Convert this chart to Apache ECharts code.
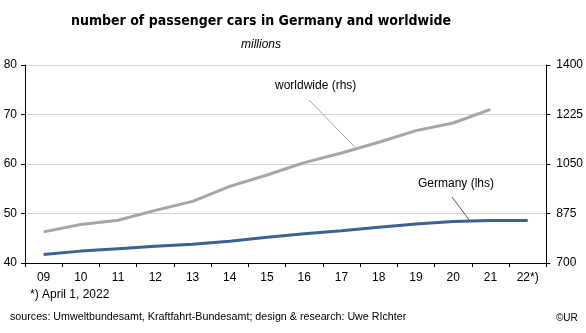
<!DOCTYPE html>
<html>
<head>
<meta charset="utf-8">
<script src="https://cdn.jsdelivr.net/npm/echarts@6/dist/echarts.min.js"></script>
<style>
  html, body { margin: 0; padding: 0; background: #fff; }
  #chart { width: 586px; height: 333px; }
</style>
</head>
<body>
<div id="chart"></div>
<script>
// Years (2022 as of April 1)
const years = ['09', '10', '11', '12', '13', '14', '15', '16', '17', '18', '19', '20', '21', '22*)'];
// Passenger cars in Germany, millions (left axis)
const germany = [41.7, 42.4, 42.9, 43.4, 43.8, 44.4, 45.2, 45.9, 46.5, 47.2, 47.9, 48.4, 48.6, 48.6];
// Passenger cars worldwide, millions (right axis)
const worldwide = [810, 836, 851, 886, 918, 971, 1011, 1055, 1089, 1127, 1168, 1195, 1243, null];

const leftTicks = { min: 40, max: 80, interval: 10 };
const rightTicks = { min: 700, max: 1400, interval: 175 };

const FONT = '"Liberation Sans", Arial, sans-serif';
const chart = echarts.init(document.getElementById('chart'), null, { renderer: 'canvas' });

const axisLine = { show: true, lineStyle: { color: '#000', width: 1 } };
const axisTick = { show: true, length: 4, lineStyle: { color: '#000' } };

chart.setOption({
  animation: false,
  backgroundColor: '#fff',
  grid: { left: 25, right: 39, top: 65, bottom: 70 },
  xAxis: {
    type: 'category',
    data: years,
    boundaryGap: true,
    axisLine: axisLine,
    axisTick: axisTick,
    axisLabel: { fontFamily: FONT, fontSize: 12, color: '#000', margin: 9 }
  },
  yAxis: [
    {
      type: 'value', position: 'left',
      min: leftTicks.min, max: leftTicks.max, interval: leftTicks.interval,
      axisLine: axisLine, axisTick: axisTick,
      axisLabel: { fontFamily: FONT, fontSize: 12, color: '#000', margin: 8 },
      splitLine: { show: true, lineStyle: { color: '#d4d4d4', width: 1 } }
    },
    {
      type: 'value', position: 'right',
      min: rightTicks.min, max: rightTicks.max, interval: rightTicks.interval,
      axisLine: axisLine, axisTick: axisTick,
      axisLabel: { fontFamily: FONT, fontSize: 12, color: '#000', margin: 10,
                   formatter: v => String(v) },
      splitLine: { show: false }
    }
  ],
  series: [
    {
      name: 'worldwide (rhs)', type: 'line', yAxisIndex: 1,
      data: worldwide, showSymbol: false, symbol: 'none',
      lineStyle: { color: '#a6a6a6', width: 3 }
    },
    {
      name: 'Germany (lhs)', type: 'line', yAxisIndex: 0,
      data: germany, showSymbol: false, symbol: 'none',
      lineStyle: { color: '#3a6292', width: 3 }
    }
  ]
});

// Point on a series' polyline, a fraction t of the way from category i to i+1
function pointOn(values, yAxisIndex, i, t) {
  const finder = { xAxisIndex: 0, yAxisIndex: yAxisIndex };
  const a = chart.convertToPixel(finder, [i, values[i]]);
  const b = chart.convertToPixel(finder, [i + 1, values[i + 1]]);
  return [a[0] + (b[0] - a[0]) * t, a[1] + (b[1] - a[1]) * t];
}
const wwEnd = pointOn(worldwide, 1, 8, 0.4);
const deEnd = pointOn(germany, 0, 11, 0.45);

chart.setOption({
  graphic: [
    { type: 'text', x: 261, y: 14,
      style: { text: 'number of passenger cars in Germany and worldwide',
               font: 'bold 14px "DejaVu Sans Condensed", "DejaVu Sans", sans-serif',
               fill: '#000', align: 'center', verticalAlign: 'top' } },
    { type: 'text', x: 261, y: 39,
      style: { text: 'millions', font: 'italic 12px ' + FONT, fill: '#000',
               align: 'center', verticalAlign: 'top' } },
    { type: 'text', left: 275, top: 80,
      style: { text: 'worldwide (rhs)', font: '12px ' + FONT, fill: '#000' } },
    { type: 'line', shape: { x1: 309, y1: 100, x2: wwEnd[0], y2: wwEnd[1] },
      style: { stroke: '#a6a6a6', lineWidth: 1 } },
    { type: 'text', left: 418, top: 178,
      style: { text: 'Germany (lhs)', font: '12px ' + FONT, fill: '#000' } },
    { type: 'line', shape: { x1: 452, y1: 197, x2: deEnd[0], y2: deEnd[1] },
      style: { stroke: '#3a6292', lineWidth: 1 } },
    { type: 'text', left: 30, top: 289,
      style: { text: '*) April 1, 2022', font: '12px ' + FONT, fill: '#000' } },
    { type: 'text', left: 10, top: 312,
      style: { text: 'sources: Umweltbundesamt, Kraftfahrt-Bundesamt; design & research: Uwe RIchter',
               font: '10.7px ' + FONT, fill: '#000' } },
    { type: 'text', left: 556, top: 313,
      style: { text: '©UR', font: '10px ' + FONT, fill: '#000' } }
  ]
});
</script>
</body>
</html>
